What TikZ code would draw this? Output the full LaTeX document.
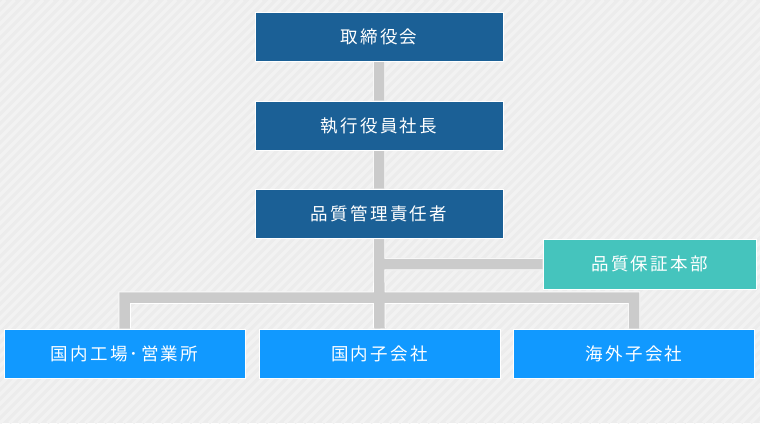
\documentclass[tikz,border=0pt]{standalone}
\usepackage{fontspec}
\setmainfont{Noto Sans CJK JP}[LetterSpace=13]
\definecolor{boardblue}{HTML}{1B6096}
\definecolor{qateal}{HTML}{45C4BD}
\definecolor{unitblue}{HTML}{1199FF}
\definecolor{bargray}{HTML}{CBCBCB}
\definecolor{shadowgray}{HTML}{DDDDDD}
\definecolor{bgbase}{HTML}{ECECEC}
\definecolor{bgstripe}{HTML}{F2F2F2}
\pgfdeclarelayer{back}
\pgfdeclarelayer{bars}
\pgfsetlayers{back,bars,main}

\begin{document}
\begin{tikzpicture}[x=1pt,y=-1pt,
  box/.style={draw=white, line width=1pt, text=white, inner sep=0pt,
    minimum height=49pt, font=\fontsize{17.5}{20}\selectfont},
  headbox/.style={box, fill=boardblue, minimum width=248pt},
  unitbox/.style={box, fill=unitblue, minimum width=241pt},
  qabox/.style={box, fill=qateal, minimum width=213pt, minimum height=50pt}]
  \def\W{760}
  \def\H{423}
  \def\xm{379}

  %boxes
  \node[headbox] (board) at (\xm,36.5) {取締役会};
  \node[headbox] (pres) at (\xm,125.5) {執行役員社長};
  \node[headbox] (qm) at (\xm,213.5) {品質管理責任者};
  \node[qabox] (qa) at (649.5,264) {品質保証本部};
  \node[unitbox] (plant) at (124.5,353.5) {国内工場･営業所};
  \node[unitbox] (subj) at (379.5,353.5) {国内子会社};
  \node[unitbox] (subo) at (634,353.5) {海外子会社};
  \coordinate (bus) at (\xm,297.5);

  %connectors: shadow, white edge, gray bar
  \begin{pgfonlayer}{bars}
  \foreach \sh/\lw/\col in {-1.5/12.5/shadowgray, 0/12.5/white, 0/10.5/bargray}
  {
    \draw[yshift=\sh pt, line width=\lw pt, \col]
      (board.south) -- (pres.north)
      (pres.south) -- (qm.north)
      (qm.south) -- (subj.north)
      (qm.south |- qa.west) -- (qa.west)
      (plant.north) |- (bus) -| (subo.north);
  }
  \end{pgfonlayer}

  %background with stripes
  \begin{pgfonlayer}{back}
  \useasboundingbox (0,0) rectangle (\W,\H);
  \fill[bgbase] (0,0) rectangle (\W,\H);
  \begin{scope}
    \clip (0,0) rectangle (\W,\H);
    \foreach \i in {-55,...,80}
    {
      \draw[bgstripe, line width=3.5pt] (\i*9.5,\H) -- (\i*9.5+\H,0);
    }
  \end{scope}
  \end{pgfonlayer}
\end{tikzpicture}
\end{document}
